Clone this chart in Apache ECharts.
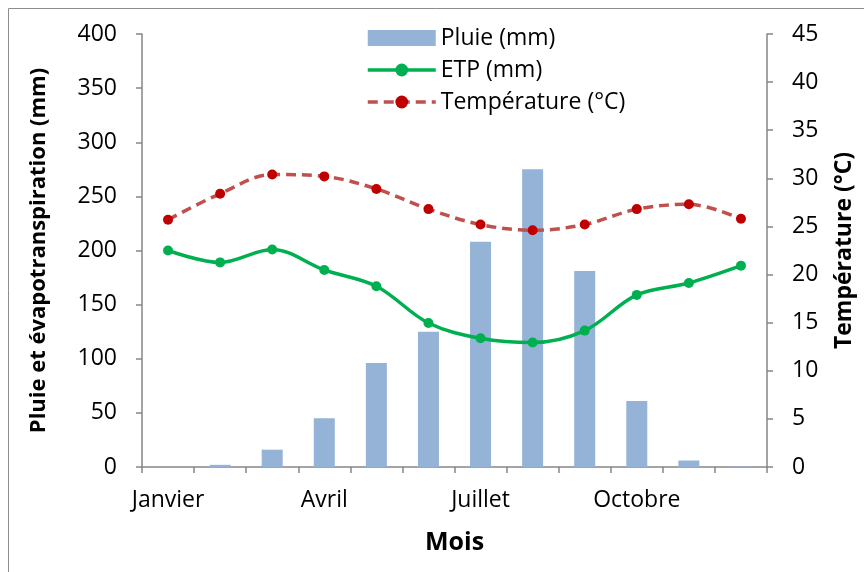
<!DOCTYPE html>
<html><head><meta charset="utf-8">
<script src="https://cdn.jsdelivr.net/npm/echarts@6/dist/echarts.min.js"></script>
<style>html,body{margin:0;padding:0;background:#fff}#c{width:864px;height:572px}</style>
</head><body><div id="c"></div>
<script>
const months = ['Janvier','Février','Mars','Avril','Mai','Juin','Juillet','Août','Septembre','Octobre','Novembre','Décembre'];
const pluie = [0, 2, 16, 45, 96, 125, 208, 275, 181, 61, 6, 0.5];
const etp = [200, 189, 201, 182, 167, 133, 119, 115, 126, 159, 170, 186];
const temperature = [25.7, 28.4, 30.4, 30.2, 28.9, 26.8, 25.2, 24.6, 25.2, 26.8, 27.3, 25.8];
const leftTicks = {min: 0, max: 400, interval: 50};
const rightTicks = {min: 0, max: 45, interval: 5};

const FONT = '"Open Sans", sans-serif';
const axisCol = '#868686';
const chart = echarts.init(document.getElementById('c'));
chart.setOption({
  animation: false,
  textStyle: {fontFamily: FONT},
  grid: {left: 142, right: 92, top: 34, bottom: 105},
  graphic: [{type: 'rect', shape: {x: 8.5, y: 8.5, width: 900, height: 600}, style: {fill: 'none', stroke: '#8c8c8c', lineWidth: 1}, silent: true}],
  legend: {
    orient: 'vertical', left: 366, top: 26.5, padding: 0, itemGap: 9, itemWidth: 68, itemHeight: 16,
    textStyle: {fontFamily: FONT, fontSize: 23, color: '#000'},
    lineStyle: {width: 3.5},
    data: [{name: 'Pluie (mm)', icon: 'rect'}, {name: 'ETP (mm)'}, {name: 'Température (°C)'}]
  },
  xAxis: {
    type: 'category', data: months, boundaryGap: true,
    name: 'Mois', nameLocation: 'middle', nameGap: 63,
    nameTextStyle: {fontFamily: FONT, fontSize: 25, fontWeight: 'bold', color: '#000'},
    axisLine: {lineStyle: {color: axisCol, width: 1.5}},
    axisTick: {show: true, alignWithLabel: false, interval: 0, length: 6, lineStyle: {color: axisCol, width: 1.5}},
    axisLabel: {interval: 2, fontSize: 23, color: '#000', margin: 22, fontFamily: FONT}
  },
  yAxis: [{
    type: 'value', min: leftTicks.min, max: leftTicks.max, interval: leftTicks.interval,
    name: 'Pluie et évapotranspiration (mm)', nameLocation: 'middle', nameGap: 92, nameRotate: 90,
    nameTextStyle: {fontFamily: FONT, fontSize: 22, fontWeight: 'bold', color: '#000'},
    splitLine: {show: false},
    axisLine: {show: true, lineStyle: {color: axisCol, width: 1.5}},
    axisTick: {show: true, length: 6, lineStyle: {color: axisCol, width: 1.5}},
    axisLabel: {fontSize: 23, color: '#000', margin: 25, fontFamily: FONT}
  }, {
    type: 'value', min: rightTicks.min, max: rightTicks.max, interval: rightTicks.interval, position: 'right',
    name: 'Température (°C)', nameLocation: 'middle', nameGap: 66, nameRotate: 90,
    nameTextStyle: {fontFamily: FONT, fontSize: 23, fontWeight: 'bold', color: '#000'},
    splitLine: {show: false},
    axisLine: {show: true, lineStyle: {color: axisCol, width: 1.5}},
    axisTick: {show: true, length: 6, lineStyle: {color: axisCol, width: 1.5}},
    axisLabel: {fontSize: 23, color: '#000', margin: 25, fontFamily: FONT}
  }],
  series: [{
    name: 'Pluie (mm)', type: 'bar', data: pluie, barWidth: 21,
    itemStyle: {color: '#95B3D7'}
  }, {
    name: 'ETP (mm)', type: 'line', data: etp, smooth: 0.35,
    symbol: 'circle', symbolSize: 10,
    lineStyle: {color: '#00B050', width: 3.5},
    itemStyle: {color: '#00B050'}
  }, {
    name: 'Température (°C)', type: 'line', yAxisIndex: 1, data: temperature, smooth: 0.35,
    symbol: 'circle', symbolSize: 10,
    lineStyle: {color: '#C0504D', width: 3.5, type: [10, 6]},
    itemStyle: {color: '#C00000'}
  }]
});
</script></body></html>
